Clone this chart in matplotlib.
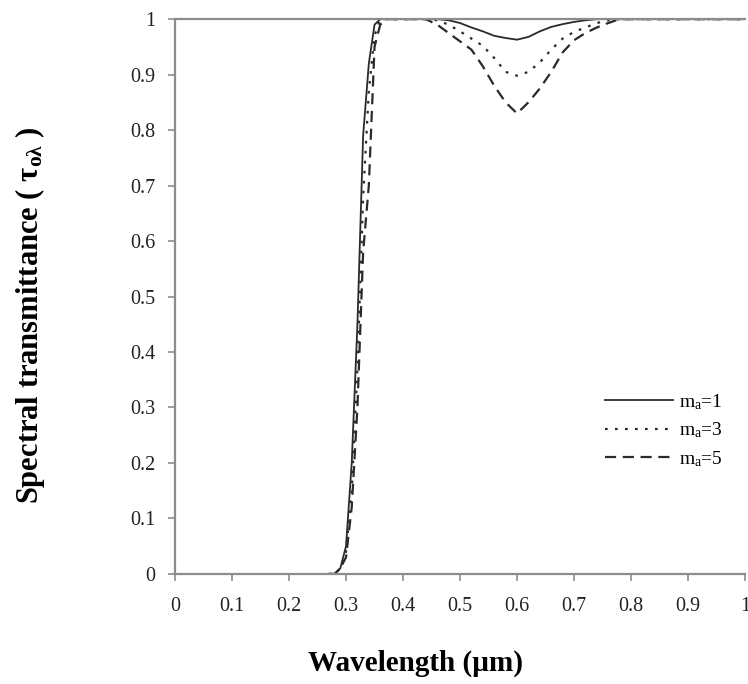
import matplotlib
matplotlib.use("Agg")
import matplotlib.pyplot as plt

plt.rcParams["font.family"] = ["Liberation Serif", "DejaVu Serif"]
plt.rcParams["mathtext.fontset"] = "custom"
plt.rcParams["mathtext.rm"] = "Liberation Serif"
plt.rcParams["mathtext.it"] = "Liberation Serif:italic"
plt.rcParams["mathtext.bf"] = "Liberation Serif:bold"

# wavelength grid (um)
wavelength = [0.27, 0.28, 0.29, 0.30, 0.31, 0.32, 0.33, 0.34, 0.35, 0.36, 0.37, 0.40, 0.44,
              0.46, 0.48, 0.50, 0.52, 0.54, 0.56, 0.58, 0.60, 0.62, 0.64, 0.66, 0.68,
              0.70, 0.72, 0.74, 0.76, 0.78, 0.80, 0.90, 1.00]

tau_ma1 = [0.0, 0.0, 0.01, 0.05, 0.20, 0.45, 0.79, 0.92, 0.99, 1.0, 1.0, 1.0, 1.0,
           1.0, 0.998, 0.993, 0.985, 0.978, 0.970, 0.966, 0.963, 0.968, 0.978, 0.986, 0.991,
           0.995, 0.998, 1.0, 1.0, 1.0, 1.0, 1.0, 1.0]
tau_ma3 = [0.0, 0.0, 0.01, 0.04, 0.15, 0.37, 0.68, 0.87, 0.97, 1.0, 1.0, 1.0, 1.0,
           0.998, 0.99, 0.978, 0.965, 0.952, 0.930, 0.905, 0.898, 0.905, 0.922, 0.945, 0.965,
           0.977, 0.985, 0.993, 0.998, 1.0, 1.0, 1.0, 1.0]
tau_ma5 = [0.0, 0.0, 0.01, 0.03, 0.12, 0.30, 0.58, 0.70, 0.95, 0.99, 1.0, 1.0, 1.0,
           0.99, 0.975, 0.960, 0.945, 0.915, 0.880, 0.850, 0.830, 0.850, 0.875, 0.905, 0.940,
           0.962, 0.975, 0.985, 0.993, 1.0, 1.0, 1.0, 1.0]

x_ticks = [0, 0.1, 0.2, 0.3, 0.4, 0.5, 0.6, 0.7, 0.8, 0.9, 1]
x_tick_labels = ["0", "0.1", "0.2", "0.3", "0.4", "0.5", "0.6", "0.7", "0.8", "0.9", "1"]
y_ticks = [0, 0.1, 0.2, 0.3, 0.4, 0.5, 0.6, 0.7, 0.8, 0.9, 1]
y_tick_labels = ["0", "0.1", "0.2", "0.3", "0.4", "0.5", "0.6", "0.7", "0.8", "0.9", "1"]

fig = plt.figure(figsize=(7.48, 6.84), dpi=100)
ax = fig.add_axes([0.234, 0.161, 0.762, 0.811])

axis_color = "#8c8c8c"
line_color = "#2a2a2a"
ax.plot(wavelength, tau_ma1, color=line_color, lw=1.3, ls="-", label=r"m$_\mathregular{a}$=1")
ax.plot(wavelength, tau_ma3, color=line_color, lw=1.6, ls=(0, (1.2, 3.3)), label=r"m$_\mathregular{a}$=3")
ax.plot(wavelength, tau_ma5, color=line_color, lw=1.6, ls=(0, (5, 3)), label=r"m$_\mathregular{a}$=5")

ax.set_xlim(0, 1)
ax.set_ylim(0, 1)
ax.set_xticks(x_ticks)
ax.set_xticklabels(x_tick_labels)
ax.set_yticks(y_ticks)
ax.set_yticklabels(y_tick_labels)
ax.tick_params(axis="both", direction="out", length=5, width=1.2, color=axis_color,
               labelsize=14.5, labelcolor="#222222")
ax.tick_params(axis="x", pad=12)
ax.tick_params(axis="y", pad=9)

for side in ["left", "bottom", "top"]:
    ax.spines[side].set_color(axis_color)
    ax.spines[side].set_linewidth(1.6)
ax.spines["right"].set_visible(False)

ax.set_ylabel(r"Spectral transmittance ( $\mathregular{\tau_{o\lambda}}$ )",
              fontsize=22, fontweight="bold")
ax.yaxis.set_label_coords(-0.225, 0.467)
fig.text(0.555, 0.03, "Wavelength (\u00b5m)", fontsize=21, fontweight="bold",
         ha="center", va="center")

ax.legend(loc="center right", bbox_to_anchor=(0.975, 0.259), frameon=False, fontsize=14,
          handlelength=3.5, handletextpad=0.3, labelspacing=0.45, borderaxespad=0.0)

fig.savefig("out.png", dpi=100)
